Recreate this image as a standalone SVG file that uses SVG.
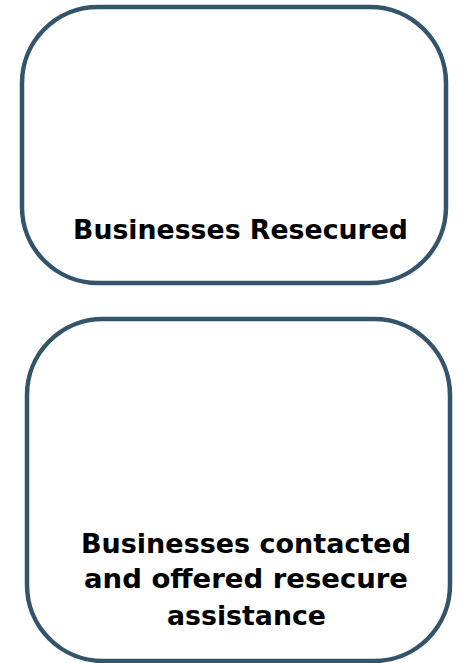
<svg xmlns="http://www.w3.org/2000/svg" width="461" height="663" viewBox="0 0 461 663">
  <style>
    .box { fill: #ffffff; stroke: #34546b; stroke-width: 4.5; }
    .label { font-family: "DejaVu Sans", "Liberation Sans", sans-serif; font-weight: bold; font-size: 27px; fill: #000000; text-anchor: middle; }
  </style>
  <rect x="0" y="0" width="461" height="663" fill="#ffffff"/>
  <g id="node-resecured">
    <rect class="box" x="22" y="7" width="424" height="276" rx="76" ry="76"/>
    <text class="label" x="240.5" y="239" textLength="335" lengthAdjust="spacingAndGlyphs">Businesses Resecured</text>
  </g>
  <g id="node-contacted">
    <rect class="box" x="27" y="319" width="423" height="342" rx="76" ry="76"/>
    <text class="label" x="246" y="553" textLength="330" lengthAdjust="spacingAndGlyphs">Businesses contacted</text>
    <text class="label" x="246" y="588" textLength="324" lengthAdjust="spacingAndGlyphs">and offered resecure</text>
    <text class="label" x="246.5" y="625" textLength="159" lengthAdjust="spacingAndGlyphs">assistance</text>
  </g>
  <g id="connectors"></g>
</svg>
